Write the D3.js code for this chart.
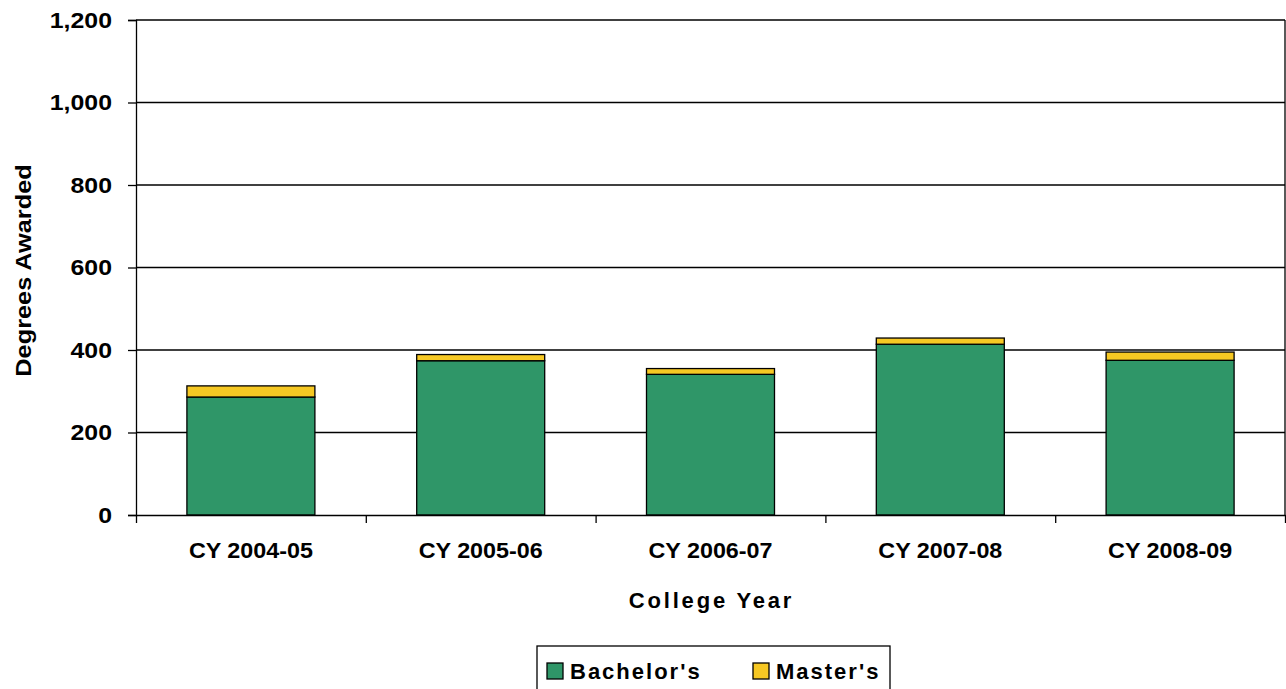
<!DOCTYPE html>
<html>
<head>
<meta charset="utf-8">
<script src="https://cdnjs.cloudflare.com/ajax/libs/d3/7.8.5/d3.min.js"></script>
<style>
  body { margin: 0; background: #fff; }
  text { font-family: "Liberation Sans", Arial, sans-serif; font-weight: bold; fill: #000; }
</style>
</head>
<body>
<svg width="1286" height="689"></svg>
<script>
// Data
let years = ["CY 2004-05", "CY 2005-06", "CY 2006-07", "CY 2007-08", "CY 2008-09"];
let bachelors = [286, 374, 341, 414, 375];
let masters = [27, 15, 14, 15, 20];
let seriesNames = ["Bachelor's", "Master's"];
let seriesColors = ["#2f9668", "#f6c823"];
let yTicks = [0, 200, 400, 600, 800, 1000, 1200];

// Set up dimensions
let svg = d3.select("svg");
let margin = {top: 20, right: 1, bottom: 174, left: 136};
let width = +svg.attr("width") - margin.left - margin.right;
let height = +svg.attr("height") - margin.top - margin.bottom;

let g = svg.append("g")
    .attr("transform", "translate(" + margin.left + "," + margin.top + ")");

let x = d3.scaleBand()
    .domain(years)
    .range([0, width])
    .paddingInner(0.443)
    .paddingOuter(0.2215);

// boundaries between categories, used for the x tick marks
let xEdge = d3.scaleLinear()
    .domain([0, years.length])
    .range([0, width]);

let y = d3.scaleLinear()
    .domain([0, 1200])
    .range([height, 0]);

// stretch text a bit horizontally, like the original rendering
function stretch(sel, k) {
  sel.each(function() {
    let len = this.getComputedTextLength();
    d3.select(this).attr("textLength", len * k).attr("lengthAdjust", "spacingAndGlyphs");
  });
}

// Gridlines
g.append("g")
  .selectAll("line")
  .data(yTicks.filter(d => d > 0))
  .enter().append("line")
    .attr("x1", 0)
    .attr("x2", width)
    .attr("y1", d => y(d))
    .attr("y2", d => y(d))
    .attr("stroke", "#000")
    .attr("stroke-width", 1.3);

// right border of plot area
g.append("line")
  .attr("x1", width).attr("x2", width)
  .attr("y1", 0).attr("y2", height)
  .attr("stroke", "#000")
  .attr("stroke-width", 1.3);

// Stacked bars
let table = years.map((d, i) => ({year: d, b: bachelors[i], m: masters[i]}));
let stacked = d3.stack().keys(["b", "m"])(table);

g.selectAll(".series")
  .data(stacked)
  .enter().append("g")
    .attr("fill", (d, i) => seriesColors[i])
  .selectAll("rect")
  .data(d => d)
  .enter().append("rect")
    .attr("x", d => x(d.data.year))
    .attr("width", x.bandwidth())
    .attr("y", d => y(d[1]))
    .attr("height", d => y(d[0]) - y(d[1]))
    .attr("stroke", "#000")
    .attr("stroke-width", 1.3);

// Y axis
let yAxis = g.append("g")
  .call(d3.axisLeft(y)
    .tickValues(yTicks)
    .tickSize(8)
    .tickPadding(16)
    .tickFormat(d3.format(",")));
yAxis.select(".domain").attr("stroke-width", 1.3);
yAxis.selectAll(".tick line").attr("stroke-width", 1.3);
yAxis.selectAll("text")
  .style("font-size", "22px")
  .attr("font-family", null);
stretch(yAxis.selectAll("text"), 1.13);

// X axis tick marks
let xAxis = g.append("g")
  .attr("transform", "translate(0," + height + ")")
  .call(d3.axisBottom(xEdge)
    .tickValues(d3.range(years.length + 1))
    .tickSize(8)
    .tickSizeOuter(0)
    .tickFormat(""));
xAxis.select(".domain").attr("stroke-width", 1.3);
xAxis.selectAll(".tick line").attr("stroke-width", 1.3);

// X axis labels
let xLabels = g.append("g")
  .attr("transform", "translate(0," + height + ")")
  .call(d3.axisBottom(x).tickSize(0).tickPadding(27));
xLabels.select(".domain").remove();
xLabels.selectAll("text")
  .style("font-size", "22px")
  .attr("font-family", null);
stretch(xLabels.selectAll("text"), 1.06);

// Axis titles
svg.append("text")
  .attr("x", margin.left + width / 2 + 1)
  .attr("y", 608)
  .attr("text-anchor", "middle")
  .style("font-size", "22px")
  .style("letter-spacing", "2.8px")
  .text("College Year");

svg.append("text")
  .attr("transform", "translate(31," + (margin.top + height / 2 + 3) + ") rotate(-90)")
  .attr("text-anchor", "middle")
  .style("font-size", "22px")
  .text("Degrees Awarded")
  .call(stretch, 1.15);

// Legend
let legend = svg.append("g")
  .attr("transform", "translate(537,646)");

legend.append("rect")
  .attr("width", 353)
  .attr("height", 60)
  .attr("fill", "#fff")
  .attr("stroke", "#000")
  .attr("stroke-width", 1.3);

let legendX = d3.scalePoint()
  .domain(seriesNames)
  .range([10, 216]);

let item = legend.selectAll(".item")
  .data(seriesNames)
  .enter().append("g")
    .attr("transform", d => "translate(" + legendX(d) + ",17)");

item.append("rect")
  .attr("width", 16)
  .attr("height", 16)
  .attr("fill", (d, i) => seriesColors[i])
  .attr("stroke", "#000")
  .attr("stroke-width", 1.3);

item.append("text")
  .attr("x", 23)
  .attr("y", 16)
  .style("font-size", "22px")
  .style("letter-spacing", "2px")
  .text(d => d);
</script>
</body>
</html>
